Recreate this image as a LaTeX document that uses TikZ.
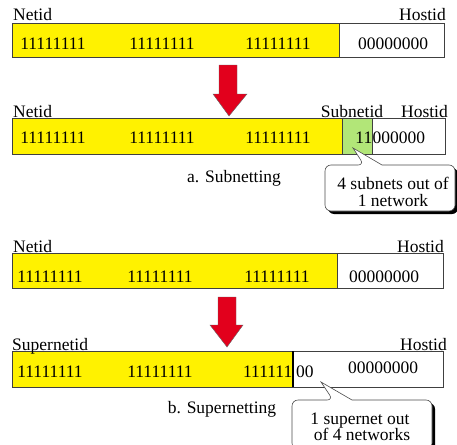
\documentclass[tikz,border=0pt]{standalone}
\usepackage{fontspec}
\setmainfont{Liberation Serif}

\definecolor{arrowred}{RGB}{226,0,28}
\definecolor{subgreen}{RGB}{178,230,120}

\tikzset{
	netpart/.style={fill=yellow, draw=black!75, line width=.8pt},
	subpart/.style={fill=subgreen, draw=black!75, line width=.8pt},
	hostpart/.style={fill=white, draw=black!75, line width=.8pt},
	bits/.style={anchor=base, inner sep=0pt},
	field/.style={inner sep=0pt},
	downarrow/.style={fill=arrowred, draw=black!60, line width=.4pt},
	callout/.style={fill=white, draw=black!70, line width=.6pt},
	shade/.style={fill=black, rounded corners=6pt},
}

\begin{document}
\begin{tikzpicture}[x=1pt, y=-1pt, every node/.style={font=\fontsize{17.5}{20}\selectfont}]
			\useasboundingbox (0,0) rectangle (457,444);
			\clip (0,0) rectangle (457,444);
			
			% Shapes
			\draw[netpart] (12,23) rectangle (339,57);
			\draw[hostpart] (339,23) rectangle (444,57);
			
			\draw[netpart] (12,118) rectangle (342,154);
			\draw[subpart] (342,118) rectangle (372,154);
			\draw[hostpart] (372,118) rectangle (445,154);
			
			\draw[netpart] (12,253) rectangle (337,288);
			\draw[hostpart] (337,253) rectangle (443,288);
			
			\draw[netpart] (12,351) rectangle (293,387);
			\draw[hostpart] (293,351) rectangle (443,387);
			\draw[line width=1.2pt] (293,351) -- (293,387);
			
			% Arrows
			\draw[downarrow] (219,65) -- (237,65) -- (237,94) -- (247,94) -- (229,116)
				-- (213,94) -- (219,94) -- cycle;
			\draw[downarrow] (218,297) -- (236,297) -- (236,325) -- (243,325) -- (227,347)
				-- (210,325) -- (218,325) -- cycle;
			
			% Callouts
			\coordinate (T1) at (353,148);
			\coordinate (T2) at (321,382);
			
			\fill[shade] (328,168) rectangle (458,214);
			\draw[callout] (364,165) -- (T1) -- (382,165) [rounded corners=6pt] -- (455,165)
				-- (455,211) -- (325,211) -- (325,165) -- cycle;
			
			\fill[shade] (295,403) rectangle (435,452);
			\draw[callout] (333,400) -- (T2) -- (352,400) [rounded corners=6pt] -- (432,400)
				-- (432,449) -- (292,449) -- (292,400) -- cycle;
			
			% Labels
			\node[field, anchor=base west] (net1) at (13,21) {Netid};
			\node[field, anchor=base east] (host1) at (446,21) {Hostid};
			\node[field, anchor=base west] (net2) at (13,117) {Netid};
			\node[field, anchor=base] (sub2) at (352,117) {Subnetid};
			\node[field, anchor=base east] (host2) at (448,117) {Hostid};
			\node[field, anchor=base west] (net3) at (13,252) {Netid};
			\node[field, anchor=base east] (host3) at (444,252) {Hostid};
			\node[field, anchor=base west] (net4) at (12,350) {Supernetid};
			\node[field, anchor=base east] (host4) at (447,350) {Hostid};
			
			% Bits
			\foreach \x/\row in {53/49, 162/49, 278/49, 53/143, 162/143, 278/143,
				50/282, 160/282, 277/282, 50/377, 160/377} {
				\node[bits] at (\x,\row) {11111111};
			}
			\node[bits] (zero1) at (393,49) {00000000};
			\node[bits, anchor=base east] (one2) at (372.5,143) {11};
			\node[bits, anchor=base west] (zero2) at (372.5,143) {000000};
			\node[bits] (zero3) at (384,282) {00000000};
			\node[bits, anchor=base east] (one4) at (292.5,377) {111111};
			\node[bits, anchor=base west] (two4) at (296,377) {00};
			\node[bits] (zero4) at (383,373) {00000000};
			
			% Captions
			\node[field, anchor=base] (capa) at (234,182) {a. Subnetting};
			\node[field, anchor=base] (capb) at (222,413) {b. Supernetting};
			
			\node[field, anchor=base] (say1) at (393,189) {4 subnets out of};
			\node[field, anchor=base] (say2) at (393,206) {1 network};
			\node[field, anchor=base] (say3) at (360,424) {1 supernet out};
			\node[field, anchor=base] (say4) at (362,440) {of 4 networks};
		\end{tikzpicture}
\end{document}
